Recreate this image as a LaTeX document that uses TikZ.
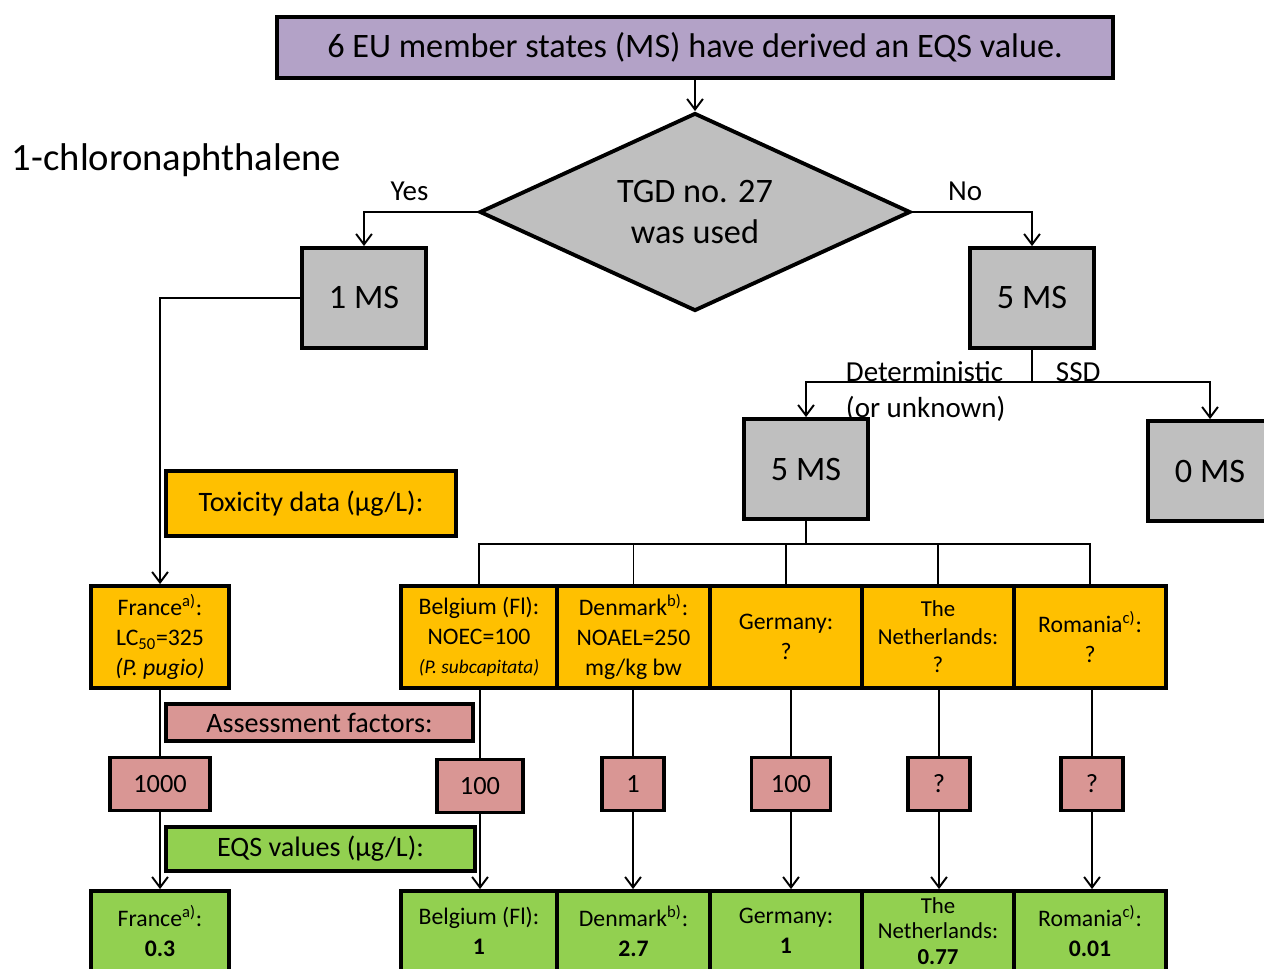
\documentclass[tikz,border=0pt]{standalone}
\usepackage{fontspec}
\setmainfont{Carlito}
\usepackage{tikz}
\usetikzlibrary{shapes, shapes.geometric, arrows, arrows.meta, calc, positioning}

\definecolor{lilac}{HTML}{B3A2C7}
\definecolor{grey}{HTML}{BFBFBF}
\definecolor{amber}{HTML}{FFC000}
\definecolor{rose}{HTML}{D99694}
\definecolor{leaf}{HTML}{92D050}

\tikzstyle{boite} = [
    rectangle,
    draw = black,
    line width = 2.2pt,
    inner sep = 0pt,
    text centered,
    align = center,
]
\tikzstyle{ms} = [boite, fill = grey, minimum width = 2.48cm, minimum height = 2cm, font = \fontsize{19.5}{23}\selectfont]
\tikzstyle{toxicity} = [boite, fill = amber, minimum height = 2.04cm, font = \fontsize{13.5}{17}\selectfont]
\tikzstyle{factor} = [boite, fill = rose, minimum height = 1.06cm, font = \fontsize{15}{18}\selectfont]
\tikzstyle{eqs} = [boite, fill = leaf, minimum height = 1.6cm, font = \fontsize{13.5}{17}\selectfont]
\tikzstyle{legend} = [boite, font = \fontsize{16}{19}\selectfont]
\tikzstyle{branch} = [inner sep = 0pt, font = \fontsize{16.5}{20}\selectfont]

\begin{document}
\begin{tikzpicture} [x = 0.02cm, y = -0.02cm, line width = 1.1pt, >={Straight Barb[length = 6pt, width = 9pt]}]
    \path[use as bounding box, clip] (0, 0) rectangle (1264, 969);

    \node (Members) [boite, fill = lilac, minimum width = 16.72cm, minimum height = 1.22cm, font = \fontsize{19.5}{23}\selectfont] at (695, 47.5) {6 EU member states (MS) have derived an EQS value.};
    \node (Substance) [anchor = west, inner sep = 0pt, font = \fontsize{22}{26}\selectfont] at (11, 160) {1-chloronaphthalene};

    \node (TGD) [diamond, draw = black, fill = grey, line width = 2.2pt, aspect = 2.2, minimum width = 8.62cm, minimum height = 3.96cm, inner sep = 0pt, align = center, font = \fontsize{19.5}{23}\selectfont] at (695, 212) {TGD no. 27\\was used};

    \node (OneMS) [ms] at (364, 298) {1 MS};
    \node (FiveMS) [ms] at (1032, 298) {5 MS};
    \node (DetMS) [ms] at (806, 469) {5 MS};
    \node (ZeroMS) [ms] at (1210, 471) {0 MS};

    \node (Deterministic) [branch, anchor = base west] at (845, 381) {Deterministic};
    \node (Unknown) [branch, anchor = base west] at (845, 418) {(or unknown)};
    \node (SSD) [branch, anchor = base west] at (1055, 381) {SSD};

    \node (Toxicity) [legend, fill = amber, minimum width = 5.8cm, minimum height = 1.3cm] at (311, 503.5) {Toxicity data (µg/L):};
    \node (Factors) [legend, fill = rose, minimum width = 6.14cm, minimum height = 0.74cm] at (319.5, 722.5) {Assessment factors:};
    \node (Values) [legend, fill = leaf, minimum width = 6.18cm, minimum height = 0.88cm] at (320.5, 849) {EQS values (µg/L):};

    \node (France) [toxicity, minimum width = 2.76cm] at (160, 637) {France\textsuperscript{a)}:\\LC\textsubscript{50}=325\\\textit{(P. pugio)}};
    \node (Belgium) [toxicity, minimum width = 3.12cm] at (479, 637) {Belgium (Fl):\\NOEC=100\\{\fontsize{11}{13}\selectfont\textit{(P. subcapitata)}}};
    \node (Denmark) [toxicity, minimum width = 3.06cm] at (633.5, 637) {Denmark\textsuperscript{b)}:\\NOAEL=250\\mg/kg bw};
    \node (Germany) [toxicity, minimum width = 3.04cm] at (786, 637) {Germany:\\?};
    \node (Netherlands) [toxicity, minimum width = 3.04cm, font = \fontsize{13}{16}\selectfont] at (938, 637) {The\\Netherlands:\\?};
    \node (Romania) [toxicity, minimum width = 3.04cm] at (1090, 637) {Romania\textsuperscript{c)}:\\?};

    \node (FacFrance) [factor, minimum width = 2cm] at (160, 784) {1000};
    \node (FacBelgium) [factor, minimum width = 1.72cm] at (480, 786) {100};
    \node (FacDenmark) [factor, minimum width = 1.24cm] at (633, 784) {1};
    \node (FacGermany) [factor, minimum width = 1.58cm] at (791, 784) {100};
    \node (FacNetherlands) [factor, minimum width = 1.24cm] at (939, 784) {?};
    \node (FacRomania) [factor, minimum width = 1.24cm] at (1092, 784) {?};

    \node (EqsFrance) [eqs, minimum width = 2.76cm] at (160, 931) {France\textsuperscript{a)}:\\\textbf{0.3}};
    \node (EqsBelgium) [eqs, minimum width = 3.12cm] at (479, 931) {Belgium (Fl):\\\textbf{1}};
    \node (EqsDenmark) [eqs, minimum width = 3.06cm] at (633.5, 931) {Denmark\textsuperscript{b)}:\\\textbf{2.7}};
    \node (EqsGermany) [eqs, minimum width = 3.04cm] at (786, 931) {Germany:\\\textbf{1}};
    \node (EqsNetherlands) [eqs, minimum width = 3.04cm, font = \fontsize{13}{14.5}\selectfont] at (938, 931) {The\\Netherlands:\\\textbf{0.77}};
    \node (EqsRomania) [eqs, minimum width = 3.04cm] at (1090, 931) {Romania\textsuperscript{c)}:\\\textbf{0.01}};

    \draw[->] (Members) -- (TGD);
    \draw[->] (TGD.west) -| node (Yes) [branch, pos = 0.3, above = 6pt] {Yes} (OneMS.north);
    \draw[->] (TGD.east) -| node (No) [branch, pos = 0.22, above = 6pt] {No} (FiveMS.north);
    \draw[->] (OneMS.west) -| (France.north);

    \coordinate (Split) at (1032, 382);
    \draw[-] (FiveMS.south) -- (Split);
    \draw[->] (Split) -| (DetMS.north);
    \draw[->] (Split) -| (ZeroMS.north);

    \coordinate (Fork) at (806, 544);
    \draw[-] (DetMS.south) -- (Fork);
    \draw[-] (Fork) -| (Belgium.north);
    \draw[-] (Fork) -| (Denmark.north);
    \draw[-] (Fork) -| (Germany.north);
    \draw[-] (Fork) -| (Netherlands.north);
    \draw[-] (Fork) -| (Romania.north);

    \draw[-] (France.south) -- (FacFrance.north);
    \draw[-] (FacBelgium.north |- Belgium.south) -- (FacBelgium.north);
    \draw[-] (FacDenmark.north |- Denmark.south) -- (FacDenmark.north);
    \draw[-] (FacGermany.north |- Germany.south) -- (FacGermany.north);
    \draw[-] (FacNetherlands.north |- Netherlands.south) -- (FacNetherlands.north);
    \draw[-] (FacRomania.north |- Romania.south) -- (FacRomania.north);

    \draw[->] (FacFrance.south) -- (EqsFrance.north);
    \draw[->] (FacBelgium.south) -- (FacBelgium.south |- EqsBelgium.north);
    \draw[->] (FacDenmark.south) -- (FacDenmark.south |- EqsDenmark.north);
    \draw[->] (FacGermany.south) -- (FacGermany.south |- EqsGermany.north);
    \draw[->] (FacNetherlands.south) -- (FacNetherlands.south |- EqsNetherlands.north);
    \draw[->] (FacRomania.south) -- (FacRomania.south |- EqsRomania.north);
\end{tikzpicture}
\end{document}
